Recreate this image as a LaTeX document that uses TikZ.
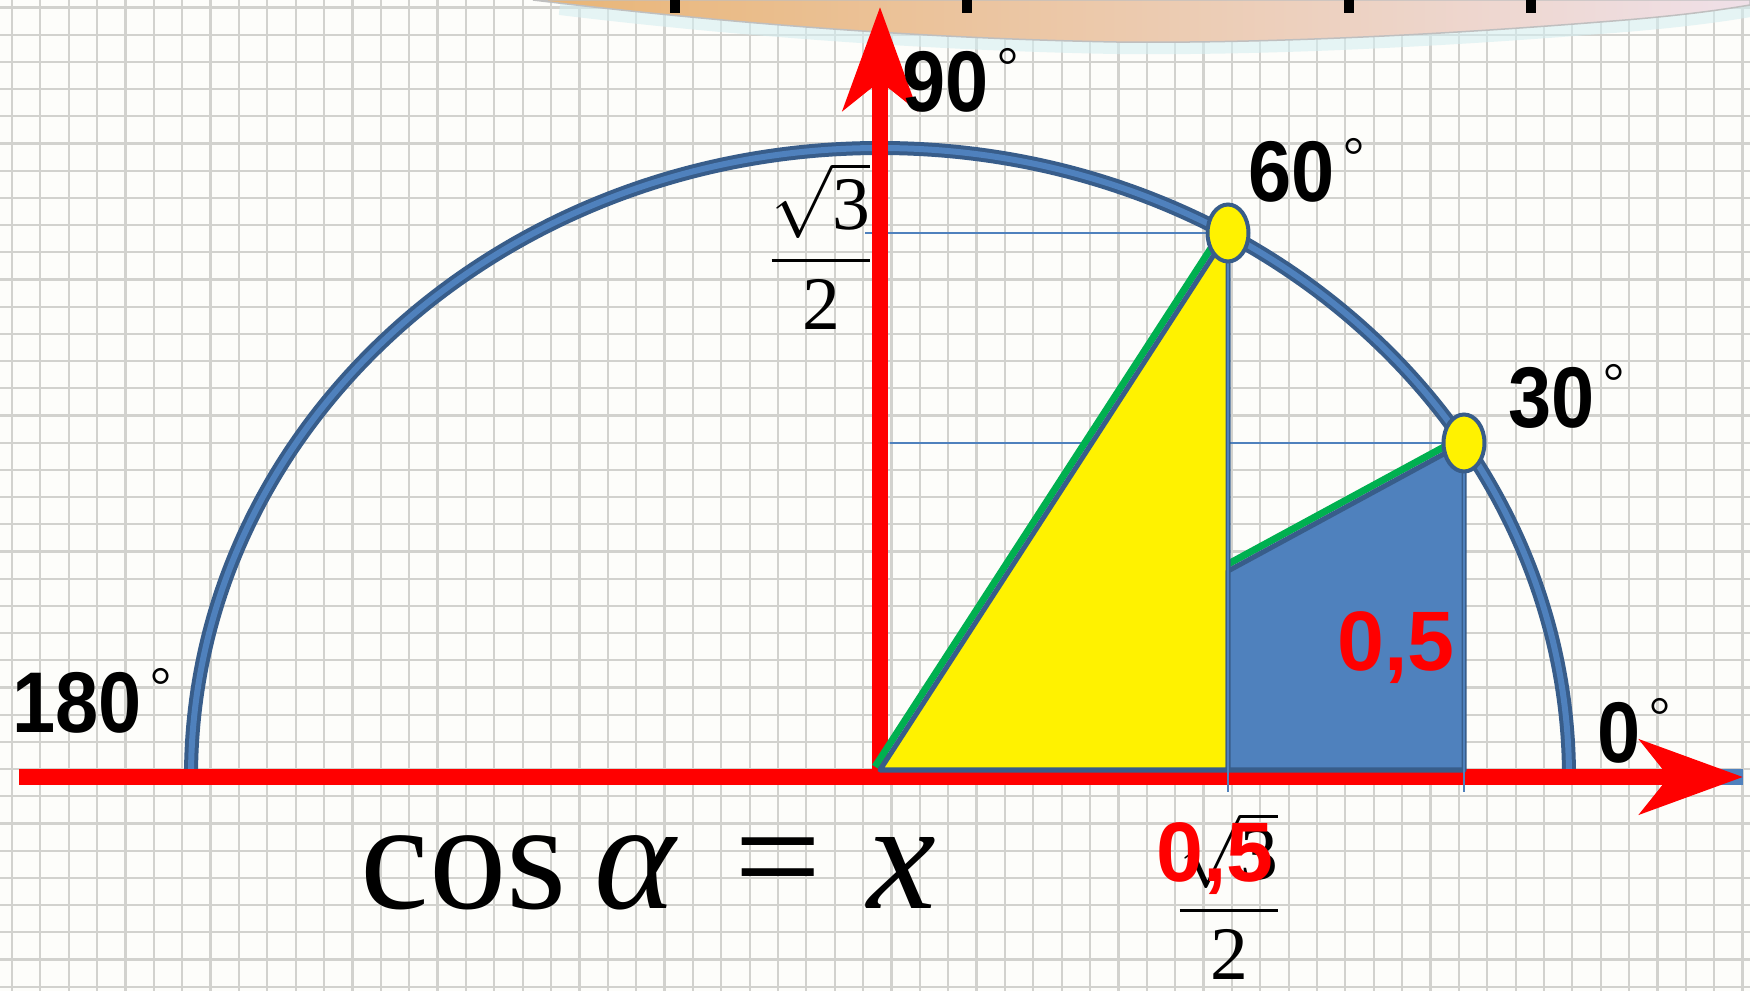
\documentclass[tikz,border=0pt]{standalone}
\usepackage{amsmath}
\usepackage{graphicx}
\usepackage{fontspec}
\setmainfont{Liberation Sans}
\newfontfamily\tms{Liberation Serif}
\usetikzlibrary{arrows.meta}
\definecolor{axred}{HTML}{FF0000}
\definecolor{arcdark}{HTML}{385D8A}
\definecolor{arcblue}{HTML}{4F81BD}
\definecolor{hypgreen}{HTML}{00B050}
\definecolor{gridgray}{HTML}{D2D2CE}
\definecolor{paper}{HTML}{FDFDFA}
\definecolor{blobor}{HTML}{E9B576}
\definecolor{blobmid}{HTML}{F2CDB0}
\definecolor{blobpink}{HTML}{EFE0E8}
\definecolor{glow}{HTML}{D5EEF0}
\newcommand\dg{\raisebox{8pt}{\fontsize{15}{15}\selectfont\tms\mdseries °}}
\newcommand\angl[1]{\scalebox{0.9}[1]{#1}\hspace{2.5pt}\dg}
\tikzset{
  lbl/.style={anchor=base west,inner sep=0pt,font=\fontsize{24.5}{28}\selectfont\bfseries},
  redlbl/.style={anchor=base,inner sep=0pt,text=axred,font=\fontsize{24}{28}\selectfont\bfseries},
  fraclbl/.style={anchor=base,inner sep=0pt,font=\fontsize{21.5}{26}\selectfont},
  redaxis/.style={axred,line width=0.16cm,-{Stealth[length=1.03cm,width=0.74cm,inset=0.29cm]}},
  projline/.style={arcblue,line width=0.018cm},
  brd/.style={draw=arcdark,line width=0.05cm,line join=round},
  ptmark/.style={fill=yellow,draw=arcdark,line width=0.04cm}
}
\begin{document}
\begin{tikzpicture}[x=0.01cm,y=-0.01cm]
  \useasboundingbox (0,0) rectangle (1750,991);
  \fill[paper] (0,0) rectangle (1750,991);
  \foreach \i in {0,...,61}
     \draw[gridgray,line width=0.022cm] ({12+28.37*\i},0) -- ++(0,991);
  \foreach \j in {0,...,36}
     \draw[gridgray,line width=0.022cm] (0,{7.5+27.2*\j}) -- ++(1750,0);
  \draw[glow,line width=0.2cm,opacity=.6]
     (560,5) .. controls (700,22) and (900,40) .. (1116,44)
     .. controls (1300,46) and (1500,32) .. (1600,24)
     .. controls (1680,18) and (1720,12) .. (1750,7);
  \shade[postaction={draw=black!25,line width=0.015cm},
         left color=blobor,middle color=blobmid,right color=blobpink]
     (533,0) .. controls (700,20) and (900,38) .. (1116,42)
     .. controls (1300,44) and (1500,30) .. (1600,22)
     .. controls (1680,16) and (1720,10) .. (1750,5) -- (1750,0) -- cycle;
  \foreach \t in {675,967,1349,1531}
     \fill ({\t-5},0) rectangle ({\t+5},13);

  \coordinate (O) at (880,777);
  \coordinate (L) at (19,777);
  \coordinate (R) at (1743,777);
  \coordinate (T) at (880,7);
  \coordinate (Ob) at (880,770);
  \coordinate (P60) at (1228,233);
  \coordinate (P30) at (1464,443);
  \coordinate (F60) at (1228,770);
  \coordinate (F30) at (1464,770);
  \coordinate (M) at (1228,571);
  \coordinate (S3) at (865,233);
  \coordinate (H30) at (890,443);
  \coordinate (V60) at (1228,792);
  \coordinate (V30) at (1464,792);

  \draw[arcdark,line width=0.14cm] (O) ++(-689,0) arc[start angle=180,end angle=360,x radius=689,y radius=629];
  \draw[arcblue,line width=0.06cm] (O) ++(-689,0) arc[start angle=180,end angle=360,x radius=689,y radius=629];
  \draw[projline] (S3) -- (P60);
  \draw[projline] (H30) -- (P30);
  \draw[arcblue,line width=0.15cm] (1620,777) -- (R);
  \draw[redaxis] (L) -- (R);
  \draw[redaxis] (880,785) -- (T);

  \draw[hypgreen,line width=0.07cm] ([shift={(-5,-3.3)}]Ob) -- ([shift={(-5,-3.3)}]P60);
  \draw[hypgreen,line width=0.07cm] ([shift={(-2.9,-5.3)}]M) -- ([shift={(-2.9,-5.3)}]P30);
  \filldraw[brd,fill=yellow] (Ob) -- (P60) -- (F60) -- cycle;
  \filldraw[brd,fill=arcblue] (F60) -- (M) -- (P30) -- (F30) -- cycle;
  \draw[projline] (P60) -- (V60);
  \draw[projline] (P30) -- (V30);
  \draw[ptmark] (P60) ellipse[x radius=20.5,y radius=28.5];
  \draw[ptmark] (P30) ellipse[x radius=20.5,y radius=28.5];

  \node[lbl] (a90) at (902,112) {\angl{90}};
  \node[lbl] (a60) at (1248,202) {\angl{60}};
  \node[lbl] (a30) at (1508,428) {\angl{30}};
  \node[lbl] (a0) at (1597,762) {\angl{0}};
  \node[lbl] (a180) at (12,732) {\angl{180}};
  \node[fraclbl] (sq1) at (821,279) {$\dfrac{\sqrt{\mbox{\tms 3}}}{\mbox{\tms 2}}$};
  \node[fraclbl] (sq2) at (1229,929) {$\dfrac{\sqrt{\mbox{\tms 3}}}{\mbox{\tms 2}}$};
  \node[redlbl] (h1) at (1396,670) {0,5};
  \node[redlbl] (h2) at (1215,882) {0,5};
  \node[anchor=base west,inner sep=0pt,font=\fontsize{44}{50}\selectfont\tms] (cs) at (360,908)
     {cos\hspace{.18em}\textit{α}\hspace{.36em}=\hspace{.3em}\textit{x}};
\end{tikzpicture}
\end{document}
